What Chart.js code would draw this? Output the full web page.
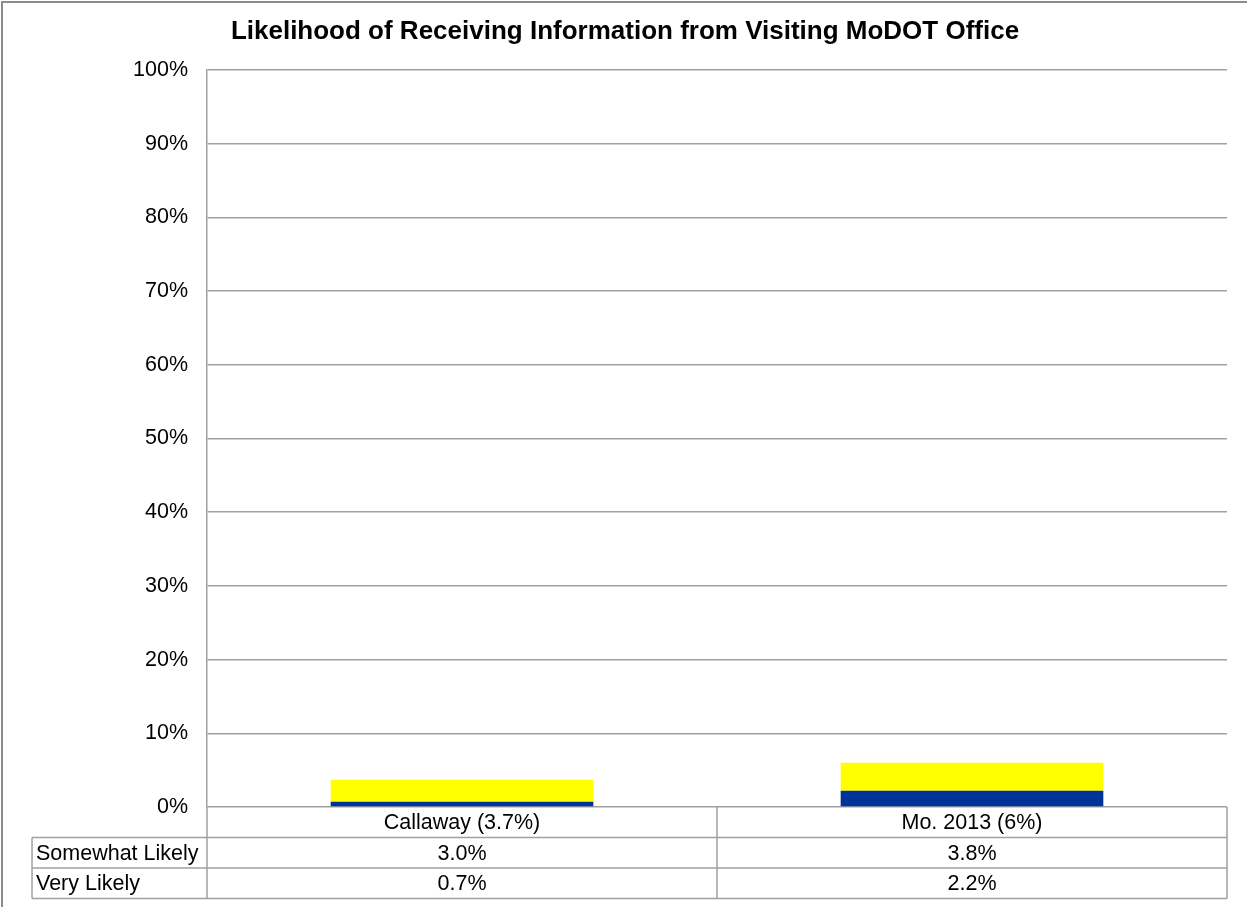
<!DOCTYPE html>
<html>
<head>
<meta charset="utf-8">
<script src="https://cdn.jsdelivr.net/npm/chart.js@4/dist/chart.umd.min.js"></script>
<style>
html,body{margin:0;padding:0;background:#fff;}
#wrap{width:1247px;height:907px;position:relative;}
</style>
</head>
<body>
<div id="wrap"><canvas id="c" width="1247" height="907"></canvas></div>
<script>
const title = "Likelihood of Receiving Information from Visiting MoDOT Office";
const categories = ["Callaway (3.7%)", "Mo. 2013 (6%)"];
const veryLikely = [0.7, 2.2];
const somewhatLikely = [3.0, 3.8];
const veryLabels = ["0.7%", "2.2%"];
const somewhatLabels = ["3.0%", "3.8%"];
const yTicks = [0, 10, 20, 30, 40, 50, 60, 70, 80, 90, 100];

const FONT = "'Liberation Sans', Arial, sans-serif";
const LINE = "#a0a0a0";

const tablePlugin = {
  id: "tablePlugin",
  afterDraw(chart) {
    const ctx = chart.ctx;
    const a = chart.chartArea;
    const x = chart.scales.x;
    const left = a.left, right = a.right, bottom = a.bottom;
    const rowH = 30.5;
    const labelLeft = 32;
    const r1 = bottom + rowH, r2 = r1 + rowH, r3 = r2 + rowH;
    const n = categories.length;
    const colW = (right - left) / n;
    ctx.save();
    // frame
    ctx.strokeStyle = "#8c8c8c";
    ctx.lineWidth = 2;
    ctx.beginPath();
    ctx.moveTo(2, 907); ctx.lineTo(2, 2); ctx.lineTo(1247, 2);
    ctx.stroke();
    // table lines
    ctx.strokeStyle = LINE;
    ctx.lineWidth = 1.5;
    ctx.beginPath();
    [r1, r2, r3].forEach(y => { ctx.moveTo(labelLeft, y); ctx.lineTo(right, y); });
    ctx.moveTo(labelLeft, r1); ctx.lineTo(labelLeft, r3);
    for (let i = 0; i <= n; i++) {
      const xx = left + i * colW;
      ctx.moveTo(xx, bottom); ctx.lineTo(xx, r3);
    }
    ctx.stroke();
    // text
    ctx.fillStyle = "#000";
    ctx.font = "21.5px " + FONT;
    ctx.textBaseline = "middle";
    ctx.textAlign = "center";
    for (let i = 0; i < n; i++) {
      const cx = x.getPixelForValue(i);
      ctx.fillText(categories[i], cx, bottom + rowH / 2 + 1);
      ctx.fillText(somewhatLabels[i], cx, r1 + rowH / 2 + 1);
      ctx.fillText(veryLabels[i], cx, r2 + rowH / 2 + 1);
    }
    ctx.textAlign = "left";
    ctx.fillText("Somewhat Likely", labelLeft + 4, r1 + rowH / 2 + 1);
    ctx.fillText("Very Likely", labelLeft + 4, r2 + rowH / 2 + 1);
    // title
    ctx.font = "bold 26px " + FONT;
    ctx.textAlign = "center";
    ctx.fillText(title, 625, 32);
    ctx.restore();
  }
};

new Chart(document.getElementById("c"), {
  type: "bar",
  data: {
    labels: categories,
    datasets: [
      { label: "Very Likely", data: veryLikely, backgroundColor: "#003399", borderWidth: 0 },
      { label: "Somewhat Likely", data: somewhatLikely, backgroundColor: "#FFFF00", borderWidth: 0 }
    ]
  },
  options: {
    responsive: false,
    animation: false,
    layout: { padding: { left: 0, right: 20, top: 70, bottom: 100 } },
    plugins: { legend: { display: false }, title: { display: false }, tooltip: { enabled: false } },
    datasets: { bar: { barPercentage: 0.515, categoryPercentage: 1.0 } },
    scales: {
      x: {
        stacked: true,
        display: false
      },
      y: {
        stacked: true,
        min: 0, max: 100,
        afterBuildTicks(s) { s.ticks = yTicks.map(v => ({ value: v })); },
        afterFit(s) { s.width = 207; },
        border: { display: true, color: LINE, width: 1.5 },
        grid: { color: LINE, lineWidth: 1.5, drawTicks: false, tickLength: 0 },
        ticks: {
          padding: 19,
          color: "#000",
          font: { family: FONT, size: 21.5 },
          callback: v => v + "%"
        }
      }
    }
  },
  plugins: [tablePlugin]
});
</script>
</body>
</html>
